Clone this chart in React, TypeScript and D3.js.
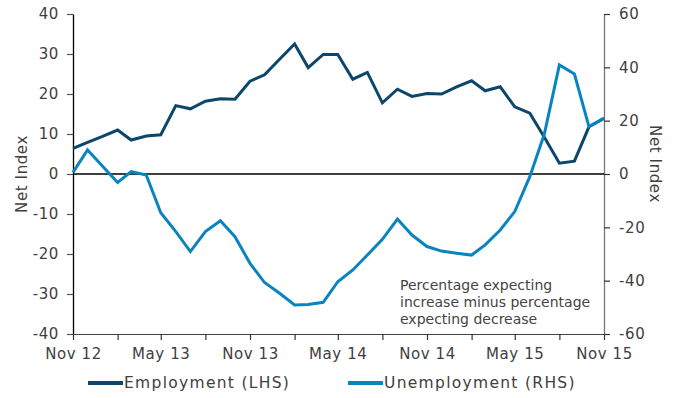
import React, { useEffect, useRef } from "react";
import * as d3 from "d3";

const months: string[] = [
  "2012-11", "2012-12",
  "2013-01", "2013-02", "2013-03", "2013-04", "2013-05", "2013-06", "2013-07", "2013-08", "2013-09", "2013-10", "2013-11", "2013-12",
  "2014-01", "2014-02", "2014-03", "2014-04", "2014-05", "2014-06", "2014-07", "2014-08", "2014-09", "2014-10", "2014-11", "2014-12",
  "2015-01", "2015-02", "2015-03", "2015-04", "2015-05", "2015-06", "2015-07", "2015-08", "2015-09", "2015-10", "2015-11",
];

const employment: number[] = [
  6.4, 7.9,
  9.4, 11.0, 8.5, 9.5, 9.8, 17.1, 16.3, 18.2, 18.8, 18.7, 23.2, 24.8,
  28.7, 32.5, 26.6, 29.9, 29.9, 23.7, 25.4, 17.8, 21.2, 19.4, 20.1, 20.0,
  21.8, 23.3, 20.8, 21.8, 16.8, 15.2, 9.2, 2.7, 3.2, 11.8, 13.9,
];

const unemployment: number[] = [
  0.6, 9.0,
  2.9, -3.2, 0.9, -0.4, -14.5, -21.6, -29.1, -21.6, -17.5, -23.5, -33.5, -40.7,
  -44.7, -49.1, -48.9, -48.1, -40.4, -36.0, -30.4, -24.5, -16.9, -22.9, -27.2, -28.9,
  -29.7, -30.4, -26.6, -21.0, -14.1, -1.0, 15.0, 40.9, 37.5, 17.8, 20.9,
];

const leftTicks: number[] = [-40, -30, -20, -10, 0, 10, 20, 30, 40];
const rightTicks: number[] = [-60, -40, -20, 0, 20, 40, 60];
const xLabelMonths: string[] = ["2012-11", "2013-05", "2013-11", "2014-05", "2014-11", "2015-05", "2015-11"];
const xTickMonths: string[] = [
  "2012-11", "2013-02", "2013-05", "2013-08", "2013-11", "2014-02", "2014-05",
  "2014-08", "2014-11", "2015-02", "2015-05", "2015-08", "2015-11",
];
const seriesNames: string[] = ["Employment (LHS)", "Unemployment (RHS)"];
const annotationLines: string[] = [
  "Percentage expecting",
  "increase minus percentage",
  "expecting decrease",
];

const W = 676;
const H = 398;
const M = { left: 73, right: 604, top: 14, bottom: 334 };
const C_EMP = "#0c476b";
const C_UNEMP = "#0a84c0";
const FONT = "'DejaVu Sans', sans-serif";
const TEXT = "#404040";

const parse = d3.timeParse("%Y-%m");
const fmt = d3.timeFormat("%b %y");

export default function App() {
  const ref = useRef<SVGSVGElement>(null);

  useEffect(() => {
    const svg = d3.select(ref.current);
    svg.selectAll("*").remove();

    const dates = months.map((m) => parse(m) as Date);
    const x = d3.scaleTime().domain([dates[0], dates[dates.length - 1]]).range([M.left, M.right]);
    const yL = d3.scaleLinear().domain([-40, 40]).range([M.bottom, M.top]);
    const yR = d3.scaleLinear().domain([-60, 60]).range([M.bottom, M.top]);

    // left axis
    const gL = svg.append("g").attr("transform", `translate(${M.left},0)`);
    gL.call(d3.axisLeft(yL).tickValues(leftTicks).tickFormat((d) => String(d)).tickSize(6).tickPadding(8).tickSizeOuter(0));
    gL.select(".domain").attr("stroke", "#000").attr("stroke-width", 1.3);
    gL.selectAll(".tick line").attr("stroke", "#555").attr("stroke-width", 1.2);
    gL.selectAll(".tick text").attr("font-family", FONT).attr("font-size", 15).attr("letter-spacing", 0.6).attr("fill", TEXT);

    // right axis
    const gR = svg.append("g").attr("transform", `translate(${M.right},0)`);
    gR.call(d3.axisRight(yR).tickValues(rightTicks).tickFormat((d) => String(d)).tickSize(6).tickPadding(9).tickSizeOuter(0));
    gR.select(".domain").attr("stroke", "#777").attr("stroke-width", 1.3);
    gR.selectAll(".tick line").attr("stroke", "#333").attr("stroke-width", 1.2);
    gR.selectAll(".tick text").attr("font-family", FONT).attr("font-size", 15).attr("letter-spacing", 0.6).attr("fill", TEXT);

    // bottom axis
    const gB = svg.append("g").attr("transform", `translate(0,${M.bottom})`);
    gB.call(
      d3.axisBottom(x)
        .tickValues(xTickMonths.map((m) => parse(m) as Date))
        .tickSize(6)
        .tickSizeOuter(0)
        .tickPadding(8)
        .tickFormat((d) => {
          const s = d3.timeFormat("%Y-%m")(d as Date);
          return xLabelMonths.includes(s) ? fmt(d as Date) : "";
        })
    );
    gB.select(".domain").attr("stroke", "#444").attr("stroke-width", 1.2);
    gB.selectAll(".tick line").attr("stroke", "#333").attr("stroke-width", 1.2);
    gB.selectAll(".tick text").attr("font-family", FONT).attr("font-size", 15).attr("letter-spacing", 0.6).attr("fill", TEXT);

    // zero line
    svg.append("line")
      .attr("x1", M.left).attr("x2", M.right)
      .attr("y1", yL(0)).attr("y2", yL(0))
      .attr("stroke", "#000").attr("stroke-width", 1.5);

    // axis titles
    svg.append("text")
      .attr("transform", `translate(22,${yL(0)}) rotate(-90)`)
      .attr("text-anchor", "middle").attr("dominant-baseline", "central")
      .attr("font-family", FONT).attr("font-size", 15).attr("letter-spacing", 0.6).attr("fill", TEXT)
      .text("Net Index");
    svg.append("text")
      .attr("transform", `translate(655,${yL(0) - 10}) rotate(90)`)
      .attr("text-anchor", "middle").attr("dominant-baseline", "central")
      .attr("font-family", FONT).attr("font-size", 15).attr("letter-spacing", 0.6).attr("fill", TEXT)
      .text("Net Index");

    // lines
    const lineL = d3.line<number>().x((_, i) => x(dates[i])).y((d) => yL(d));
    const lineR = d3.line<number>().x((_, i) => x(dates[i])).y((d) => yR(d));
    svg.append("path").attr("d", lineL(employment)).attr("fill", "none")
      .attr("stroke", C_EMP).attr("stroke-width", 3).attr("stroke-linejoin", "miter");
    svg.append("path").attr("d", lineR(unemployment)).attr("fill", "none")
      .attr("stroke", C_UNEMP).attr("stroke-width", 3).attr("stroke-linejoin", "miter");

    // annotation
    const ann = svg.append("text").attr("font-family", FONT).attr("font-size", 14).attr("fill", "#444");
    annotationLines.forEach((t, i) => {
      ann.append("tspan").attr("x", 400).attr("y", 290 + i * 17).text(t);
    });

    // legend
    const legX = [88, 348];
    seriesNames.forEach((n, i) => {
      const g = svg.append("g").attr("transform", `translate(${legX[i]},383)`);
      g.append("line").attr("x1", 0).attr("x2", 35).attr("y1", 0).attr("y2", 0)
        .attr("stroke", i === 0 ? C_EMP : C_UNEMP).attr("stroke-width", 4);
      g.append("text").attr("x", 36).attr("y", 0).attr("dominant-baseline", "central")
        .attr("font-family", FONT).attr("font-size", 15.5).attr("letter-spacing", 1.3).attr("fill", TEXT)
        .text(n);
    });
  }, []);

  return (
    <svg
      ref={ref}
      width={W}
      height={H}
      style={{ position: "absolute", left: 0, top: 0, background: "#fff" }}
    />
  );
}
